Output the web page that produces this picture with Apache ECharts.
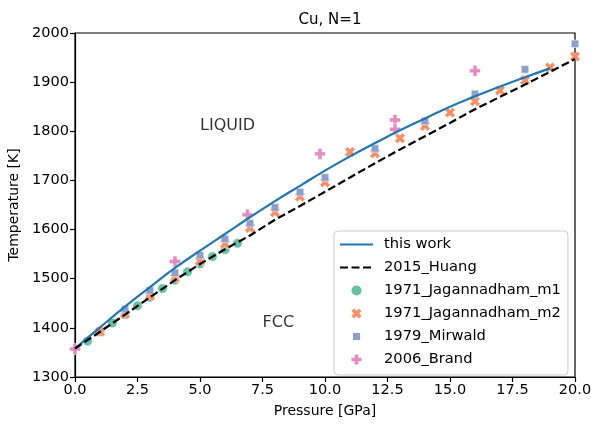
<!DOCTYPE html>
<html><head><meta charset="utf-8">
<script src="https://cdn.jsdelivr.net/npm/echarts@6/dist/echarts.min.js"></script>
<style>html,body{margin:0;padding:0;background:#fff}#c{width:591px;height:427px}</style>
</head><body><div id="c"></div>
<script>
// ---- data ----
const thisWorkP = [0,1,2,3,4,5,6,7,8,9,10,11,12,13,14,15,16,17,18,19];
const thisWorkT = [1358,1401,1443,1483,1522,1557,1591,1625,1658,1689,1720,1749,1776,1802,1826,1850,1871,1891,1910,1928];
const huangP = [0,1,2,3,4,5,6,7,8,9,10,11,12,13,14,15,16,17,18,19,20];
const huangT = [1358,1392,1427,1462,1497,1530,1560,1588,1620,1648,1677,1706,1735,1763,1790,1817,1845,1870,1895,1921,1947];
const jagM1P = [0.5,1,1.5,2,2.5,3,3.5,4,4.5,5,5.5,6,6.5];
const jagM1T = [1373,1392,1410,1427,1445,1462,1480,1497,1514,1530,1545,1559,1572];
const jagM2P = [1,2,3,4,5,6,7,8,9,10,11,12,13,14,15,16,17,18,19,20];
const jagM2T = [1392,1428,1465,1502,1536,1571,1603,1635,1667,1696,1758,1755,1786,1811,1838,1861,1883,1904,1930,1952];
const mirwaldP = [2,3,4,5,6,7,8,9,10,12,14,16,18,20];
const mirwaldT = [1438,1476,1512,1548,1581,1613,1645,1676,1706,1765,1821,1876,1926,1978];
const brandP = [0,4,6.9,9.8,12.8,12.8,16];
const brandT = [1357,1535,1630,1754,1823,1804,1923];
const seriesNames = ['this work','2015_Huang','1971_Jagannadham_m1','1971_Jagannadham_m2','1979_Mirwald','2006_Brand'];
const annotations = [['LIQUID', 5, 1800], ['FCC', 7.5, 1400]];
const xTicks = {min: 0, max: 20, step: 2.5};
const yTicks = {min: 1300, max: 2000, step: 100};

const zip = (a, b) => a.map((v, i) => [v, b[i]]);
const FONT = 'DejaVu Sans';
const X_PATH = 'path://M2.6,0 L5,2.4 L7.4,0 L10,2.6 L7.6,5 L10,7.4 L7.4,10 L5,7.6 L2.6,10 L0,7.4 L2.4,5 L0,2.6 Z';
const P_PATH = 'path://M3.2,0 H6.8 V3.2 H10 V6.8 H6.8 V10 H3.2 V6.8 H0 V3.2 H3.2 Z';
const SQ_PATH = 'path://M0,0 H10 V10 H0 Z';
const SQ_LEGEND = 'path://M-2,-2 L-2,-2 M0,0 H10 V10 H0 Z M12,12 L12,12';
const hidden = {opacity: 0, color: 'rgba(0,0,0,0)', borderWidth: 0};
const noBorder = {borderWidth: 0};

const mkScatter = (name, data, symbol, size, color) => ({
  name, type: 'scatter', z: 2, data, symbol, symbolSize: size, color,
  itemStyle: {color, borderColor: '#fff', borderWidth: 0.5, opacity: 1}
});

const chart = echarts.init(document.getElementById('c'), null, {renderer: 'canvas'});
chart.setOption({
  animation: false,
  backgroundColor: '#fff',
  textStyle: {fontFamily: FONT},
  title: {text: 'Cu, N=1', left: 325, top: 8, textAlign: 'center',
    textStyle: {fontFamily: FONT, fontSize: 15, fontWeight: 'normal', color: '#000'}},
  grid: {left: 75, right: 16, top: 33, bottom: 50, outerBoundsMode: 'none', containLabel: false,
    show: true, borderColor: '#000', borderWidth: 1.2, backgroundColor: 'transparent'},
  xAxis: {type: 'value', min: xTicks.min, max: xTicks.max, interval: xTicks.step,
    name: 'Pressure [GPa]', nameLocation: 'middle', nameGap: 27,
    nameTextStyle: {fontFamily: FONT, fontSize: 14, color: '#000'},
    axisLine: {show: true, lineStyle: {color: '#000', width: 1.2}},
    axisTick: {show: true, inside: false, length: 5, lineStyle: {color: '#000', width: 1.2}},
    axisLabel: {fontFamily: FONT, fontSize: 14.5, color: '#000', margin: 6, formatter: v => v.toFixed(1)},
    splitLine: {show: false}},
  yAxis: {type: 'value', min: yTicks.min, max: yTicks.max, interval: yTicks.step,
    name: 'Temperature [K]', nameLocation: 'middle', nameGap: 52,
    nameTextStyle: {fontFamily: FONT, fontSize: 14, color: '#000'},
    axisLine: {show: true, lineStyle: {color: '#000', width: 1.2}},
    axisTick: {show: true, inside: false, length: 5, lineStyle: {color: '#000', width: 1.2}},
    axisLabel: {fontFamily: FONT, fontSize: 14.5, color: '#000', margin: 6, formatter: v => String(v)},
    splitLine: {show: false}},
  legend: {
    data: [
      {name: seriesNames[0], itemStyle: hidden},
      {name: seriesNames[1], itemStyle: hidden},
      {name: seriesNames[2], itemStyle: noBorder},
      {name: seriesNames[3], itemStyle: noBorder},
      {name: seriesNames[4], icon: SQ_LEGEND, itemStyle: noBorder},
      {name: seriesNames[5], itemStyle: noBorder}
    ],
    orient: 'vertical', left: 334, top: 231,
    padding: [6, 7, 8, 5], itemGap: 8, itemWidth: 33, itemHeight: 10,
    backgroundColor: 'rgba(255,255,255,0.8)', borderColor: '#cccccc', borderWidth: 1, borderRadius: 4,
    textStyle: {fontFamily: FONT, fontSize: 14.7, color: '#000', lineHeight: 14, padding: [0, 0, 0, 6]}
  },
  series: [
    {name: seriesNames[0], type: 'line', z: 5, data: zip(thisWorkP, thisWorkT), smooth: true, symbol: 'none', showSymbol: false,
      lineStyle: {color: '#1f77b4', width: 2.2}, itemStyle: {color: '#1f77b4'}},
    {name: seriesNames[1], type: 'line', z: 5, data: zip(huangP, huangT), symbol: 'none', showSymbol: false,
      lineStyle: {color: '#000', width: 2.2, type: [8, 3.5]}, itemStyle: {color: '#000'}},
    mkScatter(seriesNames[2], zip(jagM1P, jagM1T), 'circle', 9.5, '#66c2a5'),
    mkScatter(seriesNames[3], zip(jagM2P, jagM2T), X_PATH, 10.5, '#fc8d62'),
    mkScatter(seriesNames[4], zip(mirwaldP, mirwaldT), SQ_PATH, 7.5, '#8da0cb'),
    mkScatter(seriesNames[5], zip(brandP, brandT), P_PATH, 11, '#e78ac3'),
    {name: 'annotations', type: 'scatter', silent: true, z: 6, symbolSize: 0,
      data: annotations.map(a => ({name: a[0], value: [a[1], a[2]]})),
      label: {show: true, position: [0, 0], align: 'left', verticalAlign: 'bottom', offset: [0, 3], formatter: p => p.name,
        fontFamily: FONT, fontSize: 16, color: '#000'}}
  ]
});
</script>
</body></html>
